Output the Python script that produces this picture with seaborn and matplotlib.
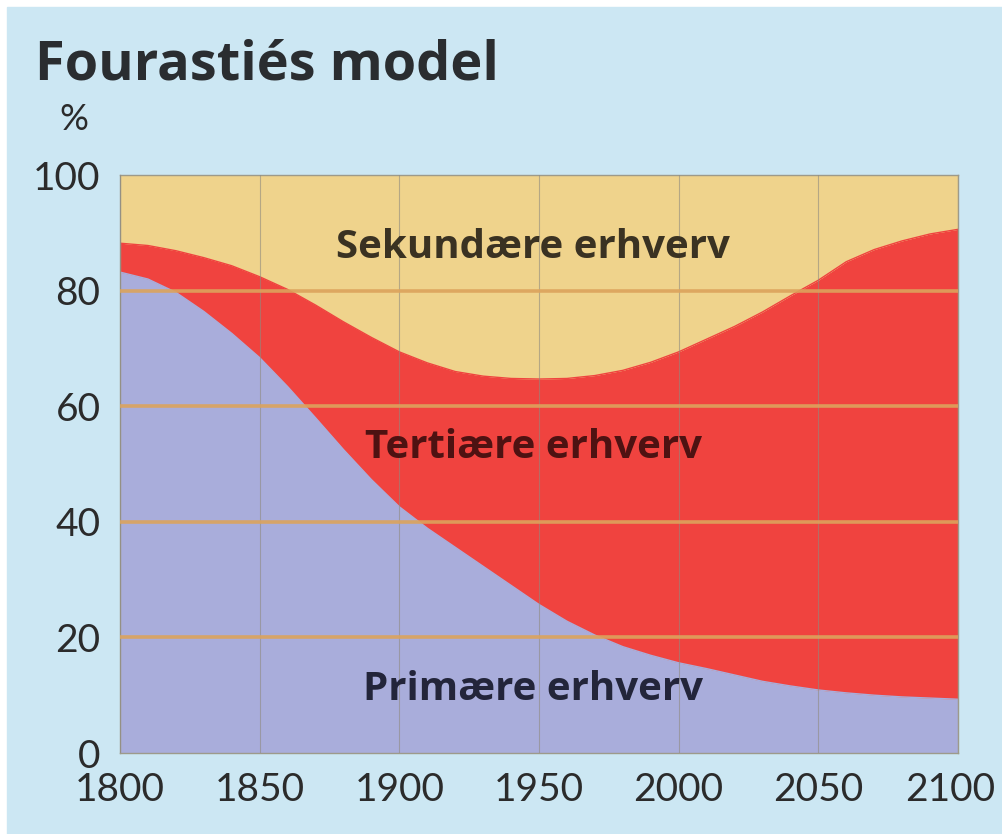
import numpy as np
import pandas as pd
import matplotlib
matplotlib.use("Agg")
import matplotlib.pyplot as plt
import matplotlib.transforms as mtransforms
from matplotlib.patches import Rectangle
import seaborn as sns

years = list(range(1800, 2101, 10))
primary = [83.2, 82.0, 79.7, 76.4, 72.6, 68.4, 63.4, 58.0, 52.5, 47.3, 42.6,
           38.9, 35.6, 32.3, 29.0, 25.7, 22.8, 20.4, 18.4, 16.9, 15.6,
           14.6, 13.5, 12.4, 11.6, 10.9, 10.4, 10.0, 9.7, 9.5, 9.3]
tertiary = [5.0, 5.8, 7.2, 9.3, 11.7, 14.0, 16.8, 19.5, 22.1, 24.6, 26.8,
            28.6, 30.4, 32.9, 35.8, 39.0, 42.0, 44.9, 47.8, 50.7, 53.8,
            57.0, 60.3, 63.9, 67.5, 70.9, 74.6, 77.1, 78.9, 80.3, 81.3]

x_ticks = [1800, 1850, 1900, 1950, 2000, 2050, 2100]
y_ticks = [0, 20, 40, 60, 80, 100]

df = pd.DataFrame({"year": years, "primary": primary, "tertiary": tertiary})
df["top"] = df["primary"] + df["tertiary"]
df["secondary"] = 100 - df["top"]

sns.set_theme(style="white")
plt.rcParams["font.family"] = ["Lato", "DejaVu Sans"]

col_primary = "#a9addb"
col_tertiary = "#f0433f"
col_secondary = "#efd38c"
bg = "#cce7f3"
bold_font = ["Open Sans", "DejaVu Sans"]

fig = plt.figure(figsize=(10.03, 8.34), dpi=100)
fig.patch.set_facecolor("white")
fig.patches.append(Rectangle((7 / 1003, 0), 1, (834 - 7) / 834,
                             transform=fig.transFigure, color=bg, zorder=-10))

ax = fig.add_axes([120 / 1003, 81 / 834, 838 / 1003, 578 / 834])
ax.set_facecolor(col_secondary)

ax.fill_between(df["year"], 0, df["primary"], color=col_primary, lw=0, zorder=1)
ax.fill_between(df["year"], df["primary"], df["top"], color=col_tertiary, lw=0, zorder=1)
ax.fill_between(df["year"], df["top"], 100, color=col_secondary, lw=0, zorder=1)
sns.lineplot(data=df, x="year", y="primary", ax=ax, color=col_primary, lw=1, zorder=1.2)
sns.lineplot(data=df, x="year", y="top", ax=ax, color=col_tertiary, lw=1, zorder=1.2)

ax.set_xlim(1800, 2100)
ax.set_ylim(0, 100)
ax.set_xticks(x_ticks)
ax.set_yticks(y_ticks)
ax.set_xlabel("")
ax.set_ylabel("")
ax.set_axisbelow(False)
ax.grid(axis="y", color="#dca35c", lw=2.6, alpha=0.9)
ax.grid(axis="x", color="#8f8a80", lw=0.8, alpha=0.6)
for line, v in zip(ax.get_ygridlines(), y_ticks):
    if v in (0, 100):
        line.set_visible(False)

for s in ax.spines.values():
    s.set_color("#9d9a8a")
    s.set_linewidth(1)

ax.tick_params(axis="both", length=0, labelsize=28, labelcolor="#2b2b2b")
ax.tick_params(axis="y", pad=14)
ax.tick_params(axis="x", pad=14)

# last year label sits a little inside the figure edge, as in the original
last = ax.get_xticklabels()[-1]
last.set_transform(last.get_transform() +
                   mtransforms.ScaledTranslation(-8 / 100, 0, fig.dpi_scale_trans))

ax.text(1948, 87.4, "Sekundære erhverv", ha="center", va="center", family=bold_font,
        fontsize=29, fontweight="bold", color="#3a3222", zorder=3)
ax.text(1948, 52.8, "Tertiære erhverv", ha="center", va="center", family=bold_font,
        fontsize=29, fontweight="bold", color="#4e1212", zorder=3)
ax.text(1948, 10.9, "Primære erhverv", ha="center", va="center", family=bold_font,
        fontsize=29, fontweight="bold", color="#23253a", zorder=3)

fig.text(35 / 1003, (834 - 80) / 834, "Fourastiés model", ha="left", va="baseline",
         family=bold_font, fontsize=39, fontweight="bold", color="#2a2d30")
fig.text(74 / 1003, (834 - 120) / 834, "%", ha="center", va="center",
         fontsize=26, color="#2b2b2b")

fig.savefig("out.png", dpi=100, facecolor=fig.get_facecolor())
